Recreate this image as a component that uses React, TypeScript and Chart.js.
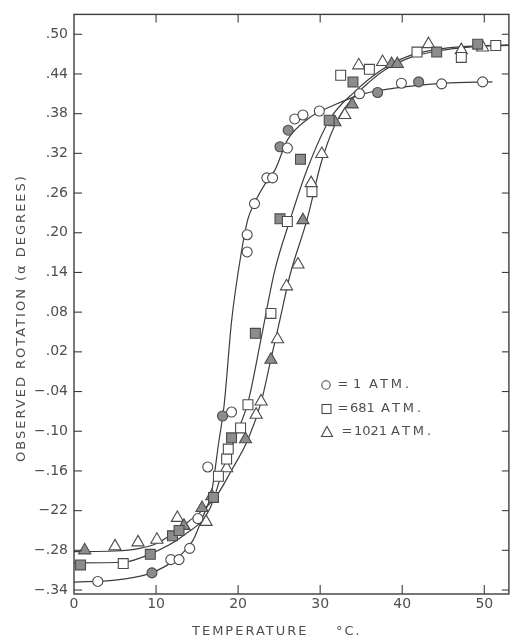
import { useEffect, useRef } from "react";
import { Chart, registerables } from "chart.js";

Chart.register(...registerables);

// ---- axis ticks ----
const xTickValues = [0, 10, 20, 30, 40, 50];
const yTickValues = [0.5, 0.44, 0.38, 0.32, 0.26, 0.2, 0.14, 0.08, 0.02, -0.04, -0.1, -0.16, -0.22, -0.28, -0.34];
const yTickLabels = [".50", ".44", ".38", ".32", ".26", ".20", ".14", ".08", ".02", "−.04", "−.10", "−.16", "−22", "−.28", "−.34"];

// ---- 1 ATM (circles) ----
const atm1T = [2.9, 9.5, 11.8, 12.8, 14.1, 15.1, 16.3, 18.1, 19.2, 21.1, 21.1, 22.0, 23.5, 24.2, 25.1, 26.0, 26.1, 26.9, 27.9, 29.9, 34.8, 37.0, 39.9, 42.0, 44.8, 49.8];
const atm1V = [-0.327, -0.314, -0.294, -0.294, -0.277, -0.232, -0.154, -0.077, -0.071, 0.171, 0.197, 0.244, 0.283, 0.283, 0.33, 0.328, 0.355, 0.372, 0.378, 0.384, 0.41, 0.412, 0.426, 0.428, 0.425, 0.428];
const atm1Filled = [0, 1, 0, 0, 0, 0, 0, 1, 0, 0, 0, 0, 0, 0, 1, 0, 1, 0, 0, 0, 0, 1, 0, 1, 0, 0];
const atm1CurveT = [0, 5, 9, 11, 13, 14.5, 15.6, 16.8, 17.6, 18.3, 19.2, 20.4, 21.2, 22.0, 23.5, 24.5, 26, 28.5, 31.7, 35.3, 40, 45, 51];
const atm1CurveV = [-0.328, -0.325, -0.316, -0.305, -0.287, -0.265, -0.232, -0.19, -0.12, -0.06, 0.066, 0.171, 0.221, 0.245, 0.278, 0.295, 0.34, 0.372, 0.393, 0.41, 0.42, 0.426, 0.428];

// ---- 681 ATM (squares) ----
const atm681T = [0.8, 6.0, 9.3, 12.0, 12.8, 17.0, 17.6, 18.6, 18.8, 19.2, 20.3, 21.2, 22.1, 24.0, 25.1, 26.0, 27.6, 29.0, 31.1, 32.5, 34.0, 36.0, 41.8, 44.2, 47.2, 49.2, 51.4];
const atm681V = [-0.302, -0.3, -0.286, -0.258, -0.25, -0.2, -0.168, -0.142, -0.127, -0.11, -0.095, -0.06, 0.048, 0.078, 0.221, 0.217, 0.311, 0.262, 0.37, 0.438, 0.428, 0.447, 0.473, 0.473, 0.465, 0.485, 0.483];
const atm681Filled = [1, 0, 1, 1, 1, 1, 0, 0, 0, 1, 0, 0, 1, 0, 1, 0, 1, 0, 1, 0, 1, 0, 0, 1, 0, 1, 0];
const atm681CurveT = [0, 6, 9.4, 13.3, 16.6, 18.25, 19.65, 21.25, 22.8, 24.45, 26.4, 28.45, 31.2, 34.2, 37.6, 41, 44.7, 50.2, 53];
const atm681CurveV = [-0.299, -0.298, -0.285, -0.258, -0.216, -0.154, -0.109, -0.054, 0.04, 0.142, 0.222, 0.297, 0.372, 0.413, 0.447, 0.468, 0.478, 0.483, 0.484];

// ---- 1021 ATM (triangles) ----
const atm1021T = [1.3, 5.0, 7.8, 10.1, 12.6, 13.4, 15.6, 16.1, 16.8, 18.6, 20.9, 22.2, 22.8, 24.0, 24.8, 25.9, 27.3, 27.9, 28.9, 30.2, 31.8, 33.0, 33.9, 34.7, 37.6, 38.7, 39.4, 43.2, 47.2, 49.8];
const atm1021V = [-0.28, -0.274, -0.268, -0.264, -0.231, -0.243, -0.216, -0.237, -0.198, -0.156, -0.112, -0.075, -0.055, 0.008, 0.039, 0.119, 0.152, 0.219, 0.275, 0.319, 0.367, 0.378, 0.394, 0.453, 0.458, 0.455, 0.455, 0.485, 0.476, 0.48];
const atm1021Filled = [1, 0, 0, 0, 0, 1, 1, 0, 1, 0, 1, 0, 0, 1, 0, 0, 0, 1, 0, 0, 1, 0, 1, 0, 0, 1, 1, 0, 0, 0];
const atm1021CurveT = [0, 5, 8, 10, 12, 14, 15.6, 17.25, 19.2, 21.25, 22.85, 24.0, 25.05, 26.3, 28.45, 30.1, 31.8, 33.6, 36, 38, 41, 45, 50, 53];
const atm1021CurveV = [-0.282, -0.281, -0.277, -0.27, -0.255, -0.236, -0.22, -0.2, -0.159, -0.111, -0.054, 0.009, 0.066, 0.135, 0.222, 0.305, 0.363, 0.398, 0.428, 0.447, 0.465, 0.476, 0.482, 0.483];

const legendLabels = ["1", "681", "1021"];

const INK = "#3d3d3d";
const TEXT = "#4e4e4e";
const FILL = "#8c8c8c";

const pts = (t: number[], v: number[]) => t.map((x, i) => ({ x, y: v[i] }));

const framePlugin = {
  id: "frame",
  afterDraw(chart: any) {
    const { ctx, chartArea: a, scales } = chart;
    ctx.save();
    ctx.strokeStyle = INK;
    ctx.lineWidth = 1.4;
    ctx.strokeRect(a.left, a.top, a.right - a.left, a.bottom - a.top);
    ctx.lineWidth = 1.1;
    const line = (x1: number, y1: number, x2: number, y2: number) => {
      ctx.beginPath();
      ctx.moveTo(x1, y1);
      ctx.lineTo(x2, y2);
      ctx.stroke();
    };
    for (const v of yTickValues) {
      const y = scales.y.getPixelForValue(v);
      line(a.left, y, a.left + 8, y);
      line(a.right - 7, y, a.right, y);
    }
    for (const t of xTickValues) {
      if (t === 0) continue;
      const x = scales.x.getPixelForValue(t);
      line(x, a.bottom, x, a.bottom - 9);
      line(x, a.top, x, a.top + 8);
    }

    // axis titles
    ctx.fillStyle = TEXT;
    ctx.font = '13px "DejaVu Sans"';
    (ctx as any).letterSpacing = "2px";
    ctx.textBaseline = "middle";
    ctx.textAlign = "left";
    ctx.fillText("TEMPERATURE", 192, 632);
    ctx.fillText("°C.", 336, 632);

    ctx.save();
    ctx.translate(22, 318);
    ctx.rotate(-Math.PI / 2);
    ctx.textAlign = "center";
    ctx.fillText("OBSERVED ROTATION (α DEGREES)", 0, 0);
    ctx.restore();

    // legend
    const rows = [385, 409, 432];
    ctx.strokeStyle = "#4a4a4a";
    ctx.lineWidth = 1.1;
    ctx.beginPath();
    ctx.arc(326, rows[0], 4.2, 0, Math.PI * 2);
    ctx.stroke();
    ctx.strokeRect(322, rows[1] - 4.5, 9, 9);
    ctx.beginPath();
    ctx.moveTo(327, rows[2] - 5.5);
    ctx.lineTo(332.5, rows[2] + 4.5);
    ctx.lineTo(321.5, rows[2] + 4.5);
    ctx.closePath();
    ctx.stroke();

    ctx.fillStyle = TEXT;
    ctx.font = '13px "DejaVu Sans"';
    const eqX = [343, 343, 347];
    const numX = [353, 350, 354];
    const atmX = [369, 381, 391];
    rows.forEach((y, i) => {
      (ctx as any).letterSpacing = "0px";
      ctx.textAlign = "center";
      ctx.fillText("=", eqX[i], y);
      ctx.textAlign = "left";
      ctx.fillText(legendLabels[i], numX[i], y);
      (ctx as any).letterSpacing = "3px";
      ctx.fillText("ATM.", atmX[i], y);
    });
    ctx.restore();
  },
};

export default function App() {
  const ref = useRef<HTMLCanvasElement | null>(null);

  useEffect(() => {
    document.body.style.margin = "0";
    const canvas = ref.current;
    if (!canvas) return;

    const markerCommon = {
      showLine: false,
      borderColor: "#4a4a4a",
      pointBorderColor: "#4a4a4a",
      pointBorderWidth: 1.1,
      order: 0,
    };
    const curveCommon = {
      showLine: true,
      pointRadius: 0,
      pointHoverRadius: 0,
      borderColor: INK,
      borderWidth: 1.2,
      cubicInterpolationMode: "monotone" as const,
      fill: false,
      order: 1,
    };

    const chart = new Chart(canvas, {
      type: "scatter",
      data: {
        datasets: [
          {
            ...markerCommon,
            label: "1 ATM.",
            data: pts(atm1T, atm1V),
            pointStyle: "circle",
            pointRadius: 5,
            pointBackgroundColor: atm1Filled.map((f) => (f ? FILL : "#ffffff")),
          },
          {
            ...markerCommon,
            label: "681 ATM.",
            data: pts(atm681T, atm681V),
            pointStyle: "rect",
            pointRadius: 7,
            pointBackgroundColor: atm681Filled.map((f) => (f ? FILL : "#ffffff")),
          },
          {
            ...markerCommon,
            label: "1021 ATM.",
            data: pts(atm1021T, atm1021V),
            pointStyle: "triangle",
            pointRadius: 7,
            pointBackgroundColor: atm1021Filled.map((f) => (f ? FILL : "#ffffff")),
          },
          { ...curveCommon, label: "fit 1", data: pts(atm1CurveT, atm1CurveV) },
          { ...curveCommon, label: "fit 681", data: pts(atm681CurveT, atm681CurveV) },
          { ...curveCommon, label: "fit 1021", data: pts(atm1021CurveT, atm1021CurveV) },
        ] as any,
      },
      options: {
        animation: false,
        responsive: false,
        devicePixelRatio: 1,
        layout: { padding: { top: 12, right: 2, left: 0, bottom: 0 } },
        plugins: {
          legend: { display: false },
          tooltip: { enabled: false },
        },
        scales: {
          x: {
            type: "linear",
            min: 0,
            max: 53,
            grid: { display: false, drawTicks: false },
            border: { display: false },
            afterBuildTicks: (scale: any) => {
              scale.ticks = xTickValues.map((v) => ({ value: v }));
            },
            afterFit: (scale: any) => {
              scale.height = 45;
            },
            ticks: {
              padding: 2,
              color: TEXT,
              font: { family: '"DejaVu Sans"', size: 14 },
              maxRotation: 0,
              callback: (v: any) => String(v),
            },
          },
          y: {
            type: "linear",
            min: -0.346,
            max: 0.53,
            grid: { display: false, drawTicks: false },
            border: { display: false },
            afterBuildTicks: (scale: any) => {
              scale.ticks = yTickValues.map((v) => ({ value: v }));
            },
            afterFit: (scale: any) => {
              scale.width = 74;
            },
            ticks: {
              padding: 6,
              color: TEXT,
              font: { family: '"DejaVu Sans"', size: 14 },
              callback: (v: any) => {
                const i = yTickValues.findIndex((t) => Math.abs(t - Number(v)) < 1e-6);
                return i >= 0 ? yTickLabels[i] : "";
              },
            },
          },
        },
      },
      plugins: [framePlugin],
    });

    return () => chart.destroy();
  }, []);

  return (
    <div style={{ width: 517, height: 639 }}>
      <canvas ref={ref} width={517} height={639} style={{ display: "block" }} />
    </div>
  );
}
